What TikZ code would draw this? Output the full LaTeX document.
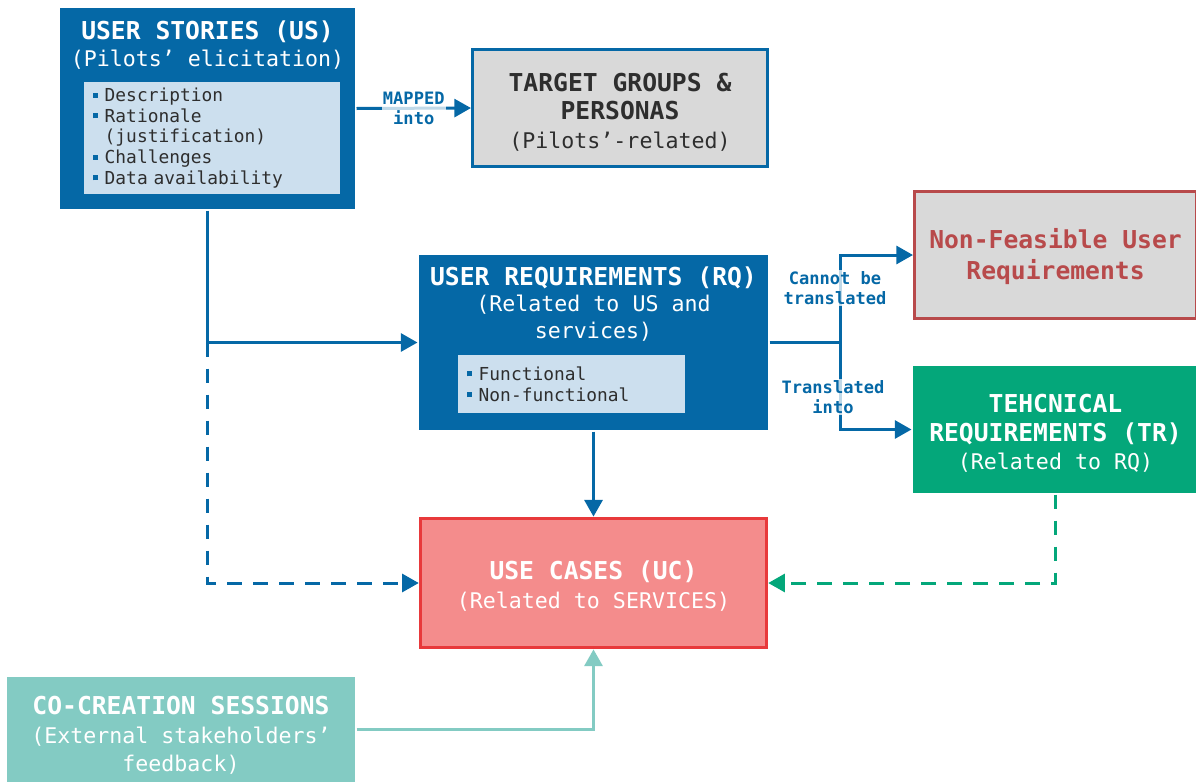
\documentclass[tikz,border=0pt]{standalone}
\usepackage{fontspec}
\setmainfont{DejaVu Sans Mono}
\usetikzlibrary{arrows.meta,positioning}

\definecolor{usblue}{HTML}{0568A6}
\definecolor{listblue}{HTML}{CCDFEE}
\definecolor{boxgray}{HTML}{D9D9D9}
\definecolor{nfred}{HTML}{B84A4B}
\definecolor{trgreen}{HTML}{04A77A}
\definecolor{ucpink}{HTML}{F48C8C}
\definecolor{ucred}{HTML}{E8393B}
\definecolor{coteal}{HTML}{83CBC3}
\definecolor{darktext}{HTML}{2E2E2E}

\newcommand{\hdfont}{\fontsize{18.5}{21.5}\bfseries\selectfont}
\newcommand{\subfont}{\fontsize{16.2}{21.5}\mdseries\selectfont}
\newcommand{\listfont}{\fontsize{13.4}{15.5}\selectfont}
\newcommand{\lblfont}{\fontsize{12.8}{14.8}\bfseries\selectfont}
\newcommand{\sqbullet}{\textcolor{usblue}{\rule[0.22em]{3.8pt}{3.8pt}}\hspace{5pt}}
\newcommand{\tstrut}[1]{\rule{0pt}{#1}}

\tikzset{
  box/.style={rectangle, align=center, inner sep=0pt, font=\hdfont},
  darkbox/.style={box, fill=usblue},
  listbox/.style={box, fill=listblue, align=left, text=darktext, inner xsep=7pt, font=\listfont},
  flow/.style={draw=usblue, -{Triangle[length=12.5pt,width=13.5pt]}},
  lbl/.style={fill=white, fill opacity=0.75, text opacity=1, text=usblue, align=center,
    inner sep=1pt, font=\lblfont},
}

\begin{document}
\begin{tikzpicture}[x=0.75pt, y=-0.75pt, line width=2.25pt]
\useasboundingbox (0,0) rectangle (1196,782);

% boxes
\node[darkbox, minimum width=221.25pt, minimum height=150.75pt] (us) at (207.5,108.5) {};
\node[box, text=white, font=\fontsize{18.5}{20.2}\bfseries\selectfont] (ustitle) at (207.5,45)
  {USER STORIES (US)\\\subfont (Pilots’ elicitation)};
\node[listbox, text width=178.5pt, minimum height=84pt] (uslist) at (212,138)
  {\sqbullet Description\\ \sqbullet Rationale\\ \hphantom{\sqbullet}(justification)\\ \sqbullet Challenges\\ \sqbullet Data availability};

\node[box, fill=boxgray, draw=usblue, text=darktext, minimum width=221.25pt, minimum height=87.75pt] (target) at (620,108)
  {\tstrut{19.7pt}TARGET GROUPS \&\\ PERSONAS\\ \subfont (Pilots’-related)};

\node[box, fill=boxgray, draw=nfred, text=nfred, minimum width=211.5pt, minimum height=95.25pt,
  font=\fontsize{18.5}{23}\bfseries\selectfont] (nonfeas) at (1055.5,255)
  {\tstrut{17pt}Non-Feasible User\\ Requirements};

\node[darkbox, minimum width=261.75pt, minimum height=131.25pt] (ur) at (593.5,342.5) {};
\node[box, text=white, font=\fontsize{18.5}{20}\bfseries\selectfont] (urtitle) at (593.5,304)
  {USER REQUIREMENTS (RQ)\\ \subfont (Related to US and\\ \subfont services)};
\node[listbox, text width=156.75pt, minimum height=43.5pt] (urlist) at (571.5,384)
  {\sqbullet Functional\\ \sqbullet Non-functional};

\node[box, fill=trgreen, text=white, minimum width=213.75pt, minimum height=95.25pt] (tr) at (1055.5,429.5)
  {\tstrut{19.7pt}TEHCNICAL\\ REQUIREMENTS (TR)\\ \subfont (Related to RQ)};

\node[box, fill=ucpink, draw=ucred, line width=2.6pt, text=white, minimum width=259.5pt, minimum height=97pt] (uc) at (593.5,583)
  {\tstrut{18.7pt}USE CASES (UC)\\ \subfont (Related to SERVICES)};

\node[box, fill=coteal, text=white, minimum width=261pt, minimum height=78.75pt] (co) at (181,729.5)
  {\tstrut{22.5pt}CO-CREATION SESSIONS\\ \subfont (External stakeholders’\\ \subfont feedback)};

% connectors
\coordinate (split) at (us.south |- ur.west);
\coordinate (fork) at (840,342.5);

\draw[flow] (us.east) -- (target.west) node[lbl, pos=0.5] (mapped) {MAPPED\\into};
\draw[usblue] (us.south) -- (split);
\draw[flow] (split) -- (ur.west);
\draw[flow, dash pattern=on 11pt off 8.5pt] (split) |- (uc.west);

\draw[usblue] (ur.east) -- (fork);
\draw[flow] (fork) |- (nonfeas.west);
\draw[flow] (fork) |- (tr.west);
\node[lbl] (cannot) at (835,288) {Cannot be\\translated};
\node[lbl] (transl) at (833,397) {Translated\\into};

\draw[flow] (ur.south) -- (uc.north);
\draw[flow, draw=trgreen, dash pattern=on 11pt off 8.5pt] (tr.south) |- (uc.east);
\draw[flow, draw=coteal] (co.east) -| (uc.south);
\end{tikzpicture}
\end{document}
